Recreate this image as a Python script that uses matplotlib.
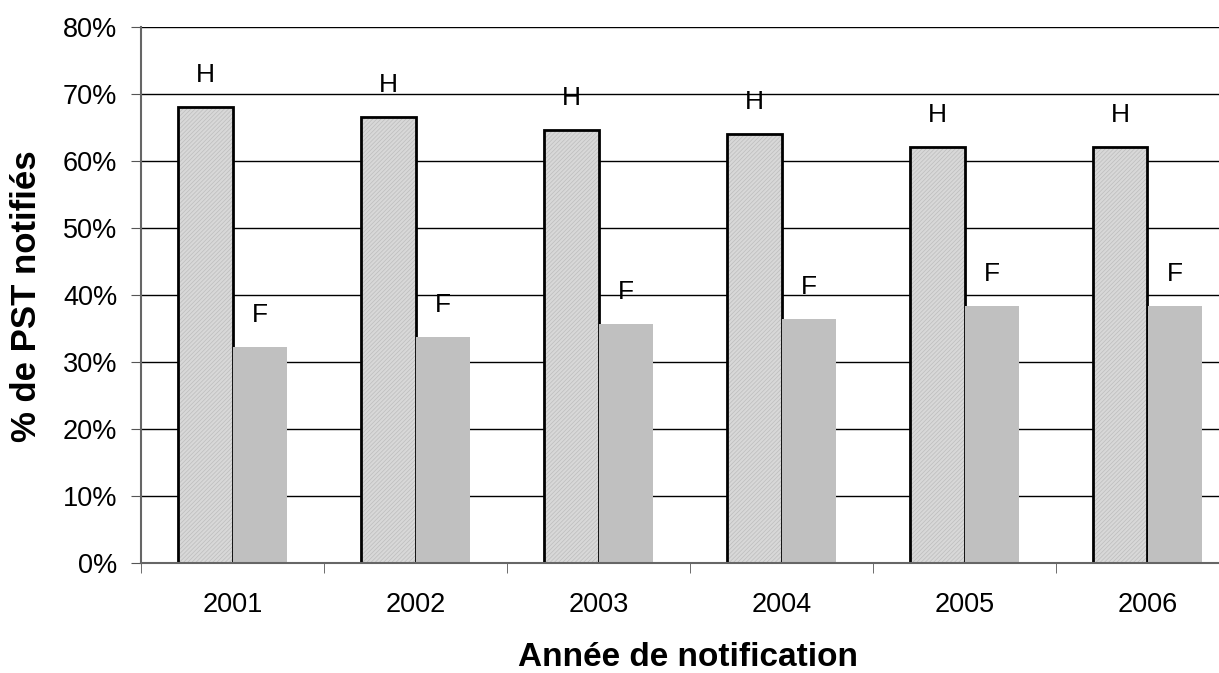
import numpy as np
import matplotlib.pyplot as plt

plt.rcParams['font.family'] = ['Liberation Sans', 'DejaVu Sans']
plt.rcParams['hatch.linewidth'] = 0.5

# données
annees = ['2001', '2002', '2003', '2004', '2005', '2006']
hommes = [68.1, 66.6, 64.6, 64.0, 62.1, 62.1]
femmes = [32.2, 33.7, 35.7, 36.4, 38.4, 38.4]

fig = plt.figure(figsize=(12.19, 6.73), dpi=100)
# la zone de tracé dépasse à droite comme dans l'original
ax = fig.add_axes([141 / 1219, 110 / 673, 1098 / 1219, 536 / 673])

x = np.arange(len(annees))
w = 0.3
# remplissage texturé (la couleur des hachures suit edgecolor), puis contour noir
ax.bar(x - w / 2, hommes, w, color='#d8d8d8', edgecolor='#bdbdbd',
       linewidth=0, hatch='////////', zorder=3)
barsH = ax.bar(x - w / 2, hommes, w, fill=False, edgecolor='black', linewidth=2, zorder=4)
# les barres F passent devant le contour des barres H
barsF = ax.bar(x + w / 2, femmes, w, color='#c0c0c0', edgecolor='none', zorder=5)

for b, v in zip(barsH, hommes):
    ax.text(b.get_x() + b.get_width() / 2, v + 3.7, 'H', ha='center', va='baseline', fontsize=19)
for b, v in zip(barsF, femmes):
    ax.text(b.get_x() + b.get_width() / 2, v + 3.7, 'F', ha='center', va='baseline', fontsize=19)

ax.set_xlim(-0.5, len(annees) - 0.5)
ax.set_ylim(0, 80)
ax.set_yticks(np.arange(0, 81, 10))
ax.set_yticklabels([f'{t}%' for t in range(0, 81, 10)], fontsize=19.5)
ax.yaxis.grid(True, color='black', linewidth=1)
ax.set_axisbelow(True)

ax.set_xticks(x)
ax.set_xticklabels(annees, fontsize=19.5)
ax.set_xticks(np.arange(-0.5, len(annees), 1), minor=True)
ax.tick_params(axis='x', which='major', length=0, pad=21)
ax.tick_params(axis='x', which='minor', length=7, color='#555555')
ax.tick_params(axis='y', length=7, color='#555555', pad=10)

for s in ['top', 'right']:
    ax.spines[s].set_visible(False)
ax.spines['left'].set_color('#666666')
ax.spines['left'].set_linewidth(1.5)
ax.spines['bottom'].set_color('#666666')
ax.spines['bottom'].set_linewidth(1.5)
ax.spines['bottom'].set_zorder(6)

fig.text(27 / 1219, 1 - 296 / 673, '% de PST notifiés', rotation=90, ha='center', va='center',
         fontsize=25, fontweight='bold')
fig.text(688 / 1219, 1 - 658 / 673, 'Année de notification', ha='center', va='center',
         fontsize=24, fontweight='bold')

fig.savefig('out.png', dpi=100)
